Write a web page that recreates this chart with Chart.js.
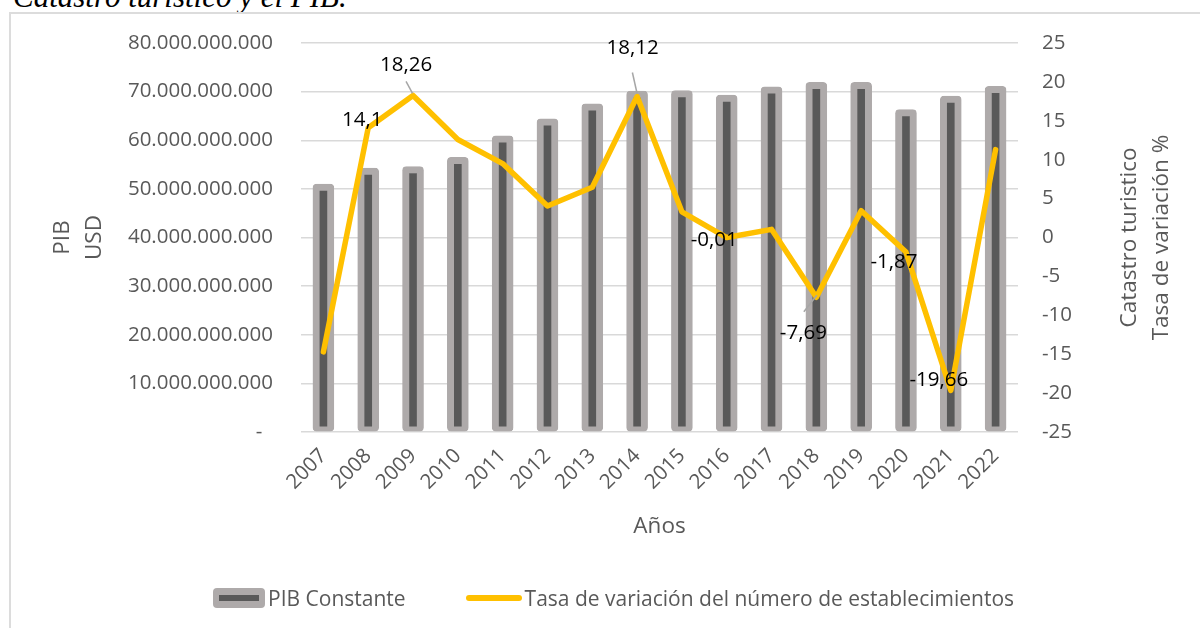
<!DOCTYPE html>
<html>
<head>
<meta charset="utf-8">
<script src="https://cdn.jsdelivr.net/npm/chart.js@4.4.1/dist/chart.umd.min.js"></script>
<style>
  body { margin: 0; width: 1200px; height: 628px; overflow: hidden; background: #fff; position: relative; font-family: "Open Sans", sans-serif; }
  #titulo { position: absolute; left: 13px; top: -19px; font: italic 31px "Liberation Serif", serif; line-height: 31px; color: #000; white-space: nowrap; }
  #marco { position: absolute; left: 9px; top: 12px; width: 1300px; height: 700px; border: 2px solid #dcdcdc; }
  #grafico { position: absolute; left: 0; top: 0; }
  #leyenda { position: absolute; left: 213px; top: 586px; height: 24px; display: flex; align-items: center; font-size: 21px; color: #595959; white-space: nowrap; }
  .icono-barra { width: 52px; height: 20px; background: #aeaaaa; border-radius: 4px; position: relative; }
  .icono-barra span { position: absolute; left: 6px; right: 6px; top: 7px; height: 6px; background: #595959; }
  .icono-linea { width: 56px; height: 6px; background: #ffc000; border-radius: 3px; margin-left: 60px; }
</style>
</head>
<body>
<div id="titulo">Catastro turístico y el PIB.</div>
<div id="marco"></div>
<canvas id="grafico" width="1200" height="628"></canvas>
<div id="leyenda">
  <div class="icono-barra"><span></span></div><span style="margin-left:3px">PIB Constante</span>
  <div class="icono-linea"></div><span style="margin-left:3px">Tasa de variación del número de establecimientos</span>
</div>
<script>
// Datos
const anios = ['2007', '2008', '2009', '2010', '2011', '2012', '2013', '2014',
  '2015', '2016', '2017', '2018', '2019', '2020', '2021', '2022'];
const pibConstante = [51.0e9, 54.3e9, 54.6e9, 56.5e9, 60.9e9, 64.4e9, 67.5e9, 70.1e9,
  70.2e9, 69.3e9, 71.0e9, 71.9e9, 71.9e9, 66.3e9, 69.1e9, 71.1e9];
const tasaVariacion = [-14.7, 14.1, 18.26, 12.6, 9.5, 4.05, 6.45, 18.12,
  3.3, -0.01, 1.05, -7.69, 3.45, -1.87, -19.66, 11.3];
// años con etiqueta de dato visible
const aniosEtiquetados = ['2008', '2009', '2014', '2016', '2018', '2020', '2021'];

// posición de cada etiqueta respecto a su punto (px) y línea guía opcional
const desplazamientos = {
  '2008': { dx: -6, dy: -8 },
  '2009': { dx: -7, dy: -30, guia: [-7, -14, -0.5, -2] },
  '2014': { dx: -4.5, dy: -48, guia: [-4.7, -24, 0, -3] },
  '2016': { dx: -12.5, dy: 2.5 },
  '2018': { dx: -13, dy: 36, guia: [-12.5, 14.5, 0.5, -2] },
  '2020': { dx: -12, dy: 10 },
  '2021': { dx: -12, dy: -10.5 }
};

const gris = '#595959';
const fuente = '"Open Sans", sans-serif';

function conPuntos(v) {
  return String(Math.round(v)).replace(/\B(?=(\d{3})+(?!\d))/g, '.');
}

// etiquetas de datos de la línea
const etiquetasDatos = {
  id: 'etiquetasDatos',
  afterDatasetsDraw(chart) {
    const ctx = chart.ctx;
    const meta = chart.getDatasetMeta(1);
    ctx.save();
    ctx.font = '20.5px ' + fuente;
    ctx.fillStyle = '#000';
    ctx.textAlign = 'center';
    ctx.textBaseline = 'middle';
    aniosEtiquetados.forEach(anio => {
      const i = anios.indexOf(anio);
      const p = meta.data[i];
      const d = desplazamientos[anio];
      if (d.guia) {
        ctx.strokeStyle = '#a6a6a6';
        ctx.lineWidth = 1.5;
        ctx.beginPath();
        ctx.moveTo(p.x + d.guia[0], p.y + d.guia[1]);
        ctx.lineTo(p.x + d.guia[2], p.y + d.guia[3]);
        ctx.stroke();
      }
      ctx.fillText(String(tasaVariacion[i]).replace('.', ','), p.x + d.dx, p.y + d.dy);
    });
    ctx.restore();
  }
};

// títulos de los ejes verticales (ambos girados -90°)
const titulosEjes = {
  id: 'titulosEjes',
  afterDraw(chart) {
    const ctx = chart.ctx;
    const dibujar = (lineas, xs, yc) => {
      lineas.forEach((t, k) => {
        ctx.save();
        ctx.translate(xs[k], yc);
        ctx.rotate(-Math.PI / 2);
        ctx.font = '22.5px ' + fuente;
        ctx.fillStyle = gris;
        ctx.textAlign = 'center';
        ctx.textBaseline = 'middle';
        ctx.fillText(t, 0, 0);
        ctx.restore();
      });
    };
    const a = chart.chartArea;
    const yc = (a.top + a.bottom) / 2;
    dibujar(['PIB', 'USD'], [63, 95], yc);
    dibujar(['Catastro turistico', 'Tasa de variación %'], [a.right + 112, a.right + 144], yc);
  }
};

new Chart(document.getElementById('grafico'), {
  type: 'bar',
  data: {
    labels: anios,
    datasets: [{
      type: 'bar',
      label: 'PIB Constante',
      data: pibConstante,
      yAxisID: 'y',
      backgroundColor: gris,
      borderColor: '#aeaaaa',
      borderWidth: { top: 7, left: 7, right: 7, bottom: 5 },
      borderSkipped: false,
      borderRadius: 4,
      barThickness: 21,
      order: 2
    }, {
      type: 'line',
      label: 'Tasa de variación del número de establecimientos',
      data: tasaVariacion,
      yAxisID: 'y1',
      borderColor: '#ffc000',
      backgroundColor: '#ffc000',
      borderWidth: 5.5,
      pointRadius: 0,
      tension: 0,
      borderJoinStyle: 'round',
      borderCapStyle: 'round',
      order: 1
    }]
  },
  options: {
    responsive: false,
    animation: false,
    layout: { padding: { top: 43, bottom: 86, left: 0, right: 0 } },
    plugins: {
      legend: { display: false },
      tooltip: { enabled: false }
    },
    scales: {
      x: {
        grid: { display: false },
        border: { display: false },
        ticks: { color: gris, font: { family: fuente, size: 20.5 }, minRotation: 45, maxRotation: 45, padding: 4 },
        title: { display: true, text: 'Años', color: gris, font: { family: fuente, size: 22.5 }, padding: { top: 0, bottom: 2 } },
        afterFit(s) { s.height = 110; }
      },
      y: {
        position: 'left',
        min: 0,
        max: 80e9,
        ticks: {
          stepSize: 10e9,
          padding: 28,
          color: gris,
          font: { family: fuente, size: 20.5 },
          callback: v => v === 0 ? '-  ' : conPuntos(v)
        },
        grid: { color: '#d9d9d9', lineWidth: 1.5, drawTicks: false },
        border: { display: false },
        afterFit(s) { s.width = 301; }
      },
      y1: {
        position: 'right',
        min: -25,
        max: 25,
        ticks: { stepSize: 5, padding: 24, color: gris, font: { family: fuente, size: 20.5 } },
        grid: { display: false, drawTicks: false },
        border: { display: false },
        afterFit(s) { s.width = 182; }
      }
    }
  },
  plugins: [etiquetasDatos, titulosEjes]
});
</script>
</body>
</html>
